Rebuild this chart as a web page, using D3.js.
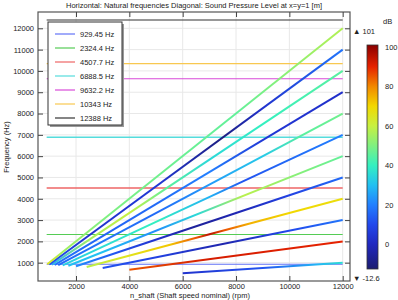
<!DOCTYPE html>
<html>
<head>
<meta charset="utf-8">
<script src="https://cdn.jsdelivr.net/npm/d3@7"></script>
<style>
  body { margin: 0; background: #fff; }
  svg text { font-family: "Liberation Sans", Arial, sans-serif; fill: #222; }
</style>
</head>
<body>
<div id="chart"></div>
<script>
// horizontal lines: natural frequencies
var naturalFreqs = [929.45, 2324.4, 4507.7, 6888.5, 9632.2, 10343, 12388];
var naturalLabels = ["929.45 Hz", "2324.4 Hz", "4507.7 Hz", "6888.5 Hz", "9632.2 Hz", "10343 Hz", "12388 Hz"];
var naturalRpm = [900, 12000];

// diagonal lines (orders), start / end points
var orderStartRpm = [6000, 4000, 3000, 2400, 2000, 1714, 1500, 1333, 1200, 1091, 1000, 923];
var orderStartHz  = [500, 667, 750, 800, 833, 857, 875, 889, 900, 909, 917, 923];
var orderEndRpm   = [12000, 12000, 12000, 12000, 12000, 12000, 12000, 12000, 12000, 12000, 12000, 12000];
var orderEndHz    = [1000, 2000, 3000, 4000, 5000, 6000, 7000, 8000, 9000, 10000, 11000, 12000];

// sound pressure level along each diagonal: [rpm, dB]
var orderSpl = [
    [[6000, 3], [9000, 12], [11000, 28], [12000, 36]],
    [[4000, 85], [7000, 92], [12000, 90]],
    [[3000, 12], [5000, 8], [7500, -3], [10000, 10], [12000, 18]],
    [[2400, 58], [4000, 66], [5500, 72], [6500, 85], [7000, 95], [7600, 85], [8500, 75], [10000, 70], [12000, 68]],
    [[2000, 22], [3500, 12], [5000, 3], [6500, -6], [8000, -2], [10000, 8], [12000, 16]],
    [[1714, 30], [3000, 30], [5000, 22], [6500, 35], [8300, 58], [10000, 52], [12000, 46]],
    [[1500, 33], [3000, 36], [5000, 40], [7000, 28], [8300, 12], [10000, 16], [12000, 20]],
    [[1333, 16], [3000, 18], [5000, 16], [7000, 24], [9000, 32], [10500, 45], [12000, 48]],
    [[1200, 18], [3000, 15], [5000, 16], [7000, 20], [9000, 5], [12000, 2]],
    [[1091, 28], [2500, 55], [4000, 60], [5500, 45], [7000, 35], [9000, 40], [12000, 45]],
    [[1000, 12], [2500, 3], [5000, 5], [7500, -10], [9000, 3], [12000, 18]],
    [[923, 65], [1500, 55], [3000, 50], [6000, 47], [8000, 46], [10000, 52], [12000, 57]]
];

var xTicks = [2000, 4000, 6000, 8000, 10000, 12000];
var yTicks = [1000, 2000, 3000, 4000, 5000, 6000, 7000, 8000, 9000, 10000, 11000, 12000];
var dbTicks = [0, 20, 40, 60, 80, 100];
var dbRange = [-12.6, 101];

var naturalColors = ["#6272f6", "#55cc55", "#ee6666", "#55dcdc", "#d84ad8", "#f8c850", "#333333"];

var width = 398, height = 300;
var m = {left: 38, right: 350, top: 12, bottom: 281};

var svg = d3.select("#chart").append("svg")
    .attr("width", width)
    .attr("height", height);

var x = d3.scaleLinear().domain([575, 12274]).range([m.left, m.right]);
var y = d3.scaleLinear().domain([141, 12765]).range([m.bottom, m.top]);

var color = d3.scaleLinear()
    .domain([-12.6, 0, 10, 20, 30, 40, 50, 60, 70, 80, 90, 101])
    .range(["#1c1c70", "#2028c0", "#2248ec", "#2280ff", "#22c0f2", "#34f0c0", "#80f080",
            "#c8f040", "#f2d800", "#f28800", "#e62200", "#8a0000"])
    .interpolate(d3.interpolateRgb)
    .clamp(true);

// title
svg.append("text")
    .attr("x", 194).attr("y", 8)
    .attr("text-anchor", "middle")
    .style("font-size", "7.5px")
    .text("Horizontal: Natural frequencies Diagonal: Sound Pressure Level at x=y=1 [m]");

// grid
var grid = svg.append("g");
grid.selectAll(".gx").data(xTicks).join("line")
    .attr("x1", d => x(d)).attr("x2", d => x(d))
    .attr("y1", m.top).attr("y2", m.bottom)
    .attr("stroke", "#e8e8e8").attr("stroke-width", 1);
grid.selectAll(".gy").data(yTicks).join("line")
    .attr("x1", m.left).attr("x2", m.right)
    .attr("y1", d => y(d)).attr("y2", d => y(d))
    .attr("stroke", "#e8e8e8").attr("stroke-width", 1);

var defs = svg.append("defs");
defs.append("clipPath").attr("id", "clip")
    .append("rect")
    .attr("x", m.left).attr("y", m.top)
    .attr("width", m.right - m.left).attr("height", m.bottom - m.top);

var plot = svg.append("g").attr("clip-path", "url(#clip)");

// horizontal lines
plot.selectAll(".nat").data(naturalFreqs).join("line")
    .attr("x1", x(naturalRpm[0])).attr("x2", x(naturalRpm[1]))
    .attr("y1", d => y(d)).attr("y2", d => y(d))
    .attr("stroke", (d, i) => naturalColors[i])
    .attr("stroke-width", (d, i) => (i == 2 || i == 3) ? 1.6 : 1.1);

// diagonal lines with gradient by SPL
orderSpl.forEach(function(spl, i) {
    var x1 = x(orderStartRpm[i]), y1 = y(orderStartHz[i]);
    var x2 = x(orderEndRpm[i]), y2 = y(orderEndHz[i]);
    var r0 = orderStartRpm[i], r1 = orderEndRpm[i];
    var grad = defs.append("linearGradient")
        .attr("id", "g" + i)
        .attr("gradientUnits", "userSpaceOnUse")
        .attr("x1", x1).attr("y1", y1).attr("x2", x2).attr("y2", y2);
    grad.selectAll("stop").data(spl).join("stop")
        .attr("offset", d => (d[0] - r0) / (r1 - r0))
        .attr("stop-color", d => color(d[1]));
    plot.append("line")
        .attr("x1", x1).attr("y1", y1).attr("x2", x2).attr("y2", y2)
        .attr("stroke", "url(#g" + i + ")")
        .attr("stroke-width", 2)
        .attr("stroke-linecap", "butt");
});

// frame
svg.append("rect")
    .attr("x", m.left).attr("y", m.top)
    .attr("width", m.right - m.left).attr("height", m.bottom - m.top)
    .attr("fill", "none").attr("stroke", "#555").attr("stroke-width", 1.2);

// axes, ticks drawn inward
var fmt = d3.format("d");
var axB = svg.append("g").attr("transform", "translate(0," + m.bottom + ")")
    .call(d3.axisBottom(x).tickValues(xTicks).tickSizeInner(-5).tickSizeOuter(0).tickPadding(3).tickFormat(fmt));
var axT = svg.append("g").attr("transform", "translate(0," + m.top + ")")
    .call(d3.axisTop(x).tickValues(xTicks).tickSizeInner(-5).tickSizeOuter(0).tickFormat(""));
var axL = svg.append("g").attr("transform", "translate(" + m.left + ",0)")
    .call(d3.axisLeft(y).tickValues(yTicks).tickSizeInner(-5).tickSizeOuter(0).tickPadding(4).tickFormat(fmt));
var axR = svg.append("g").attr("transform", "translate(" + m.right + ",0)")
    .call(d3.axisRight(y).tickValues(yTicks).tickSizeInner(-5).tickSizeOuter(0).tickFormat(""));
[axB, axT, axL, axR].forEach(function(a) {
    a.select(".domain").remove();
    a.selectAll(".tick line").attr("stroke", "#444").attr("stroke-width", 1);
    a.selectAll("text").style("font-size", "7.5px").attr("fill", "#222")
        .style("font-family", "'Liberation Sans', Arial, sans-serif");
});

// axis labels
svg.append("text")
    .attr("x", 190).attr("y", 298)
    .attr("text-anchor", "middle")
    .style("font-size", "7.5px")
    .text("n_shaft (Shaft speed nominal) (rpm)");
svg.append("text")
    .attr("transform", "translate(9,147) rotate(-90)")
    .attr("text-anchor", "middle")
    .style("font-size", "7.5px")
    .text("Frequency (Hz)");

// legend
var lg = svg.append("g");
lg.append("rect").attr("x", 50).attr("y", 24).attr("width", 74).attr("height", 103).attr("fill", "#999");
lg.append("rect").attr("x", 48).attr("y", 22).attr("width", 74).attr("height", 103)
    .attr("fill", "#fff").attr("stroke", "#333").attr("stroke-width", 1);
var rows = lg.selectAll(".row").data(naturalLabels).join("g")
    .attr("transform", (d, i) => "translate(0," + (34 + i * 14) + ")");
rows.append("line").attr("x1", 55).attr("x2", 75).attr("y1", 0).attr("y2", 0)
    .attr("stroke", (d, i) => naturalColors[i]).attr("stroke-width", 1.2);
rows.append("text").attr("x", 80).attr("y", 2.6)
    .style("font-size", "7.5px")
    .text(d => d);

// colorbar
var cb = {x: 367, w: 11, top: 45, bottom: 269};
var cy = d3.scaleLinear().domain(dbRange).range([cb.bottom, cb.top]);
var cgrad = defs.append("linearGradient").attr("id", "cbar")
    .attr("x1", 0).attr("y1", 1).attr("x2", 0).attr("y2", 0);
cgrad.selectAll("stop").data(color.domain()).join("stop")
    .attr("offset", d => (d - dbRange[0]) / (dbRange[1] - dbRange[0]))
    .attr("stop-color", d => color(d));
svg.append("rect")
    .attr("x", cb.x).attr("y", cb.top).attr("width", cb.w).attr("height", cb.bottom - cb.top)
    .attr("fill", "url(#cbar)").attr("stroke", "#333").attr("stroke-width", 0.8);
var cax = svg.append("g").attr("transform", "translate(" + (cb.x + cb.w) + ",0)")
    .call(d3.axisRight(cy).tickValues(dbTicks).tickSize(0).tickPadding(7));
cax.select(".domain").remove();
cax.selectAll("text").style("font-size", "7.5px").attr("fill", "#222");

svg.append("text").attr("x", 383).attr("y", 24).style("font-size", "7.5px").text("dB");
svg.append("text").attr("x", 353).attr("y", 34).style("font-size", "7.5px").text("\u25B2 " + dbRange[1]);
svg.append("text").attr("x", 353).attr("y", 281).style("font-size", "7.5px").text("\u25BC " + dbRange[0]);
</script>
</body>
</html>
